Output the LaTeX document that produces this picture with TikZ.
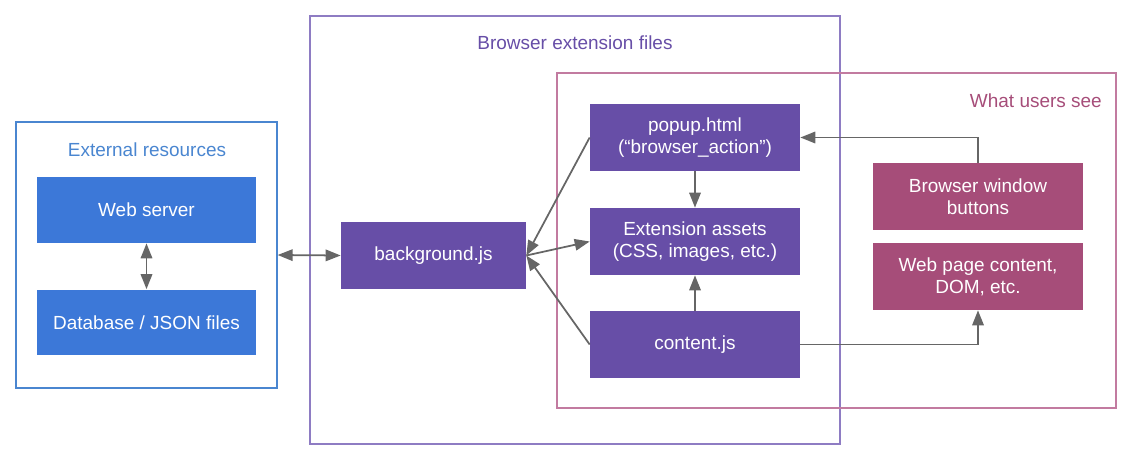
\documentclass[tikz,border=0pt]{standalone}
\usepackage{fontspec}
\setmainfont{Liberation Sans}
\usepackage{xcolor}
\usepackage{tikz}
\usetikzlibrary{positioning,calc,arrows.meta}

\definecolor{extblue}{HTML}{3C78D8}
\definecolor{extline}{HTML}{4A86D0}
\definecolor{extpurple}{HTML}{674EA7}
\definecolor{extframe}{HTML}{8E7CC3}
\definecolor{userpink}{HTML}{A64D79}
\definecolor{userframe}{HTML}{C27BA0}
\definecolor{linkgray}{HTML}{666666}

\begin{document}
\begin{tikzpicture}[x=0.02cm,y=-0.02cm,
    font=\fontsize{10.8}{12.6}\selectfont,
    block/.style={rectangle, text=white, align=center, inner sep=0pt},
    bluebox/.style={block, fill=extblue, minimum width=4.38cm, minimum height=1.32cm},
    purplebox/.style={block, fill=extpurple, minimum width=4.2cm, minimum height=1.34cm},
    pinkbox/.style={block, fill=userpink, minimum width=4.2cm, minimum height=1.34cm},
    frame/.style={rectangle, draw, line width=0.8pt, inner sep=0pt},
    link/.style={draw=linkgray, line width=1pt, -{Triangle[length=0.3cm,width=0.23cm]}},
    dlink/.style={link, {Triangle[length=0.3cm,width=0.23cm]}-{Triangle[length=0.3cm,width=0.23cm]}}]
    \useasboundingbox (0,0) rectangle (1133,460);

    % Frames
    \node[frame, draw=extline, minimum width=5.22cm, minimum height=5.32cm] (ext) at (146.5,255) {};
    \node[frame, draw=extframe, minimum width=10.6cm, minimum height=8.56cm] (files) at (575,230) {};
    \node[frame, draw=userframe, minimum width=11.18cm, minimum height=6.7cm] (users) at (836.5,240.5) {};
    \node[text=extline] (extlabel) at (147,150) {External resources};
    \node[text=extpurple] (fileslabel) at (575,43) {Browser extension files};
    \node[text=userpink, anchor=east] (userslabel) at (1108,101) {What users see};

    % External resources
    \node[bluebox] (web) at (146.5,210) {Web server};
    \node[bluebox] (db) at (146.5,322.5) {Database / JSON files};
    \draw[dlink] (web.south) -- (db.north);

    % Extension files
    \node[purplebox, minimum width=3.7cm] (bg) at (433.5,255.5) {background.js};
    \node[purplebox] (popup) at (695,137.5) {popup.html\\(“browser\_action”)};
    \node[purplebox] (assets) at (695,241.5) {Extension assets\\(CSS, images, etc.)};
    \node[purplebox] (content) at (695,344.5) {content.js};

    % What users see
    \node[pinkbox] (buttons) at (978,196.5) {Browser window\\buttons};
    \node[pinkbox] (page) at (978,276.5) {Web page content,\\DOM, etc.};

    % Connectors
    \draw[dlink] (ext.east) -- (bg.west);
    \draw[link] (popup.west) -- (bg.east);
    \draw[link] (bg.east) -- (assets.west);
    \draw[link] (content.west) -- (bg.east);
    \draw[link] (popup.south) -- (assets.north);
    \draw[link] (content.north) -- (assets.south);
    \draw[link] (buttons.north) |- (popup.east);
    \draw[link] (content.east) -| (page.south);
\end{tikzpicture}
\end{document}
